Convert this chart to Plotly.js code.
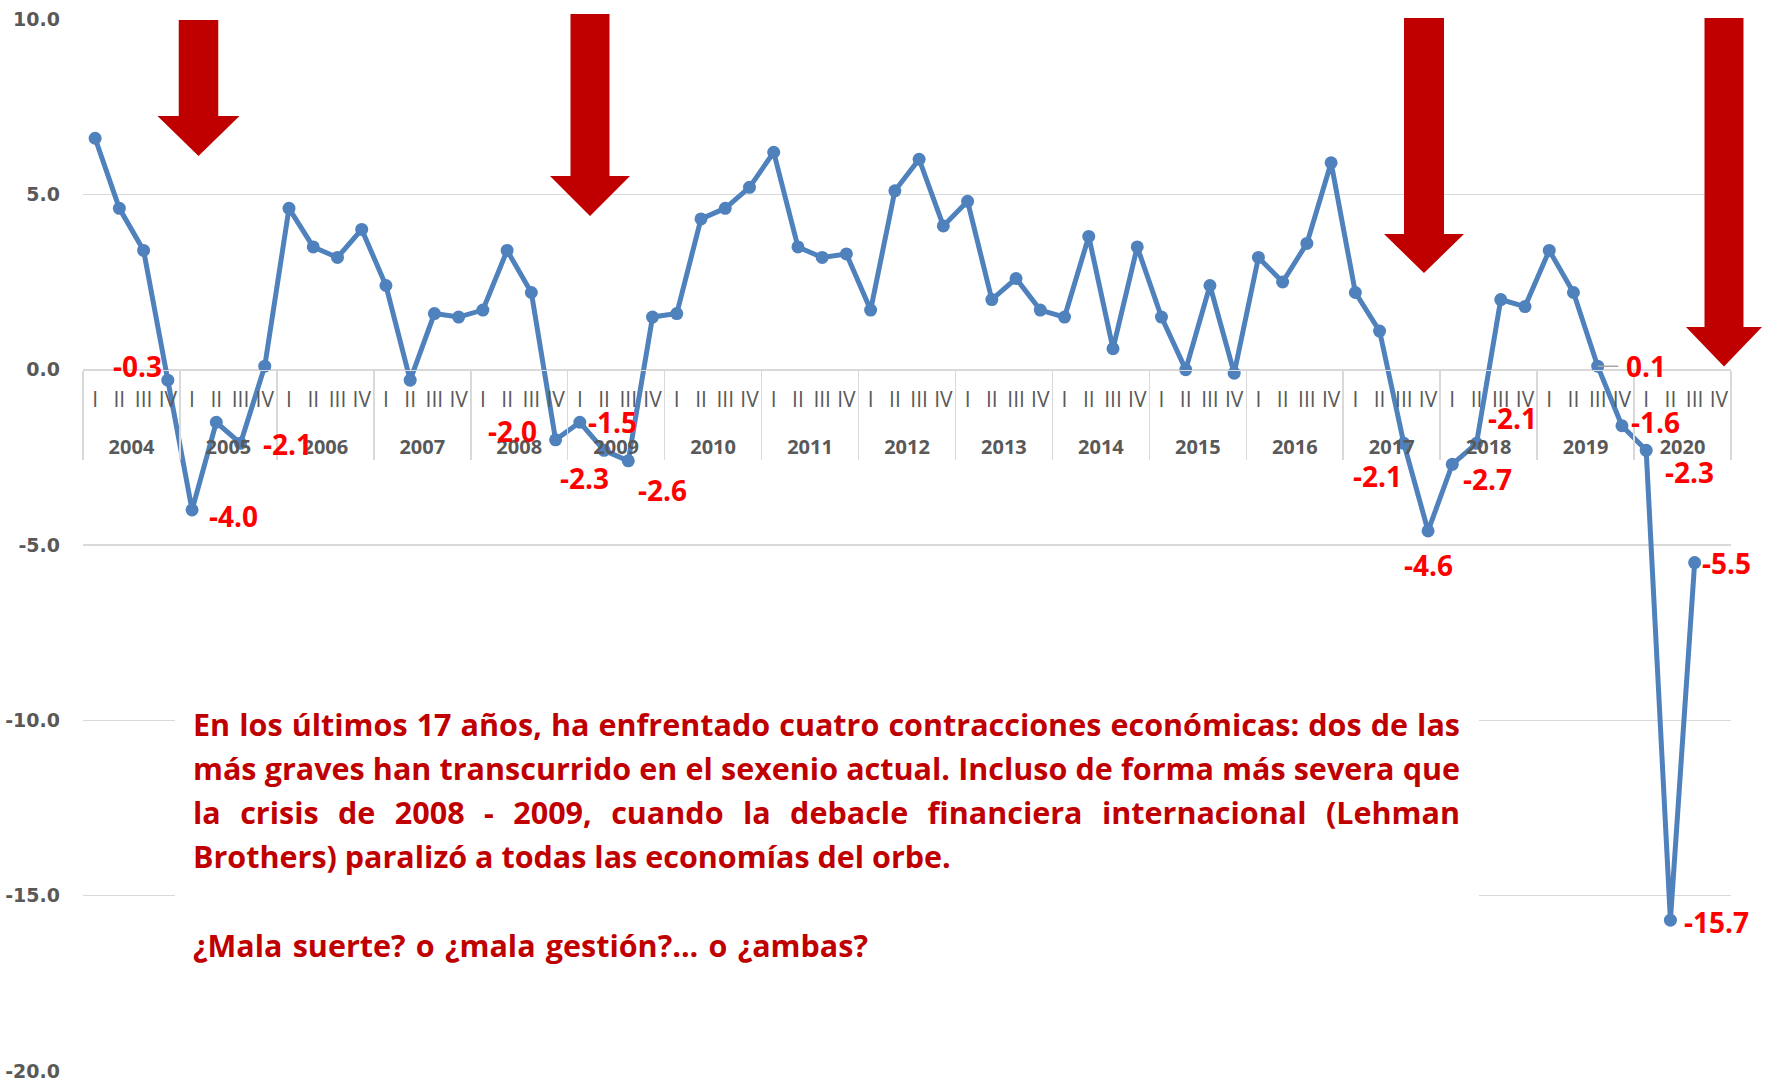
<!DOCTYPE html>
<html>
<head>
<meta charset="utf-8">
<script src="https://cdn.plot.ly/plotly-3.0.1.min.js"></script>
<style>
html,body{margin:0;padding:0;background:#ffffff;}
#chart{width:1772px;height:1090px;}
</style>
</head>
<body>
<div id="chart"></div>
<script>
// ---------------- DATA ----------------
const years = ['2004','2005','2006','2007','2008','2009','2010','2011','2012',
               '2013','2014','2015','2016','2017','2018','2019','2020'];
const quarters = ['I','II','III','IV'];
// Quarterly growth (%), 2004-I .. 2020-III
const growth = [
  6.6, 4.6, 3.4, -0.3,
  -4.0, -1.5, -2.1, 0.1,
  4.6, 3.5, 3.2, 4.0,
  2.4, -0.3, 1.6, 1.5,
  1.7, 3.4, 2.2, -2.0,
  -1.5, -2.3, -2.6, 1.5,
  1.6, 4.3, 4.6, 5.2,
  6.2, 3.5, 3.2, 3.3,
  1.7, 5.1, 6.0, 4.1,
  4.8, 2.0, 2.6, 1.7,
  1.5, 3.8, 0.6, 3.5,
  1.5, 0.0, 2.4, -0.1,
  3.2, 2.5, 3.6, 5.9,
  2.2, 1.1, -2.1, -4.6,
  -2.7, -2.1, 2.0, 1.8,
  3.4, 2.2, 0.1, -1.6,
  -2.3, -15.7, -5.5
];
const yTicks = [10, 5, 0, -5, -10, -15, -20];
// indices of quarters that carry a value label
const labelledPoints = [3, 4, 6, 19, 20, 21, 22, 54, 55, 56, 57, 62, 63, 64, 65, 66];
const paragraph = [
  'En los últimos 17 años, ha enfrentado cuatro contracciones económicas: dos de las',
  'más graves han transcurrido en el sexenio actual. Incluso de forma más severa que',
  'la crisis de 2008 - 2009, cuando la debacle financiera internacional (Lehman',
  'Brothers) paralizó a todas las economías del orbe.',
  '',
  '¿Mala suerte? o ¿mala gestión?... o ¿ambas?'
];

// ---------------- LAYOUT HELPERS ----------------
const W = 1772, H = 1090;
const PL = 83, PR = 1731, PT = 19, PB = 1071;
const fx = p => (p - PL) / (PR - PL);
const fy = p => (PB - p) / (PB - PT);
const FONT = '"Open Sans", "Noto Sans", sans-serif';
const TICKFONT = '"DejaVu Sans", "Open Sans", sans-serif';
const DARKRED = '#C00000';
const LABELRED = '#FF0000';
const GRID = '#D9D9D9';
const AXISTEXT = '#595959';

// build category axis (outer level = year, shown bold one line lower)
const outer = [], inner = [];
years.forEach(y => quarters.forEach(q => {
  outer.push('<br><span style="font-size:20px"><b>' + y + '</b></span>');
  inner.push(q);
}));
const yVals = inner.map((_, i) => (i < growth.length ? growth[i] : null));

const trace = {
  type: 'scatter',
  mode: 'lines+markers',
  x: [outer, inner],
  y: yVals,
  line: {color: '#4F81BD', width: 5},
  marker: {color: '#4F81BD', size: 13},
  hoverinfo: 'skip',
  cliponaxis: false
};

// label placement (style only)
const place = {
  3:  {xa: 'right',  dx: -4,  dy: 14},
  4:  {xa: 'left',   dx: 15,  dy: -6},
  6:  {xa: 'left',   dx: 20,  dy: -1},
  19: {xa: 'right',  dx: -17, dy: 9},
  20: {xa: 'left',   dx: 6,   dy: 0},
  21: {xa: 'center', dx: -20, dy: -28},
  22: {xa: 'left',   dx: 8,   dy: -29},
  54: {xa: 'right',  dx: 0,   dy: -33},
  55: {xa: 'center', dx: 0,   dy: -34},
  56: {xa: 'left',   dx: 9,   dy: -15},
  57: {xa: 'left',   dx: 9,   dy: 25},
  62: {arrow: true,  ax: 48,  ay: 0},
  63: {xa: 'left',   dx: 7,   dy: 4},
  64: {xa: 'left',   dx: 17,  dy: -22},
  65: {xa: 'left',   dx: 12,  dy: -2},
  66: {xa: 'left',   dx: 5,   dy: 0}
};

const annotations = [];
labelledPoints.forEach(i => {
  const p = place[i];
  const a = {
    xref: 'x', yref: 'y', x: i, y: growth[i],
    text: growth[i].toFixed(1),
    font: {family: FONT, size: 28, color: LABELRED, weight: 'bold'}
  };
  if (p.arrow) {
    Object.assign(a, {showarrow: true, arrowhead: 0, arrowwidth: 1.5, arrowcolor: '#A6A6A6',
                      ax: p.ax, ay: p.ay, startstandoff: 6});
  } else {
    Object.assign(a, {showarrow: false, xanchor: p.xa, yanchor: 'middle', xshift: p.dx, yshift: p.dy});
  }
  annotations.push(a);
});

// paragraph (lines spaced to the widths seen in the reference)
const PFONT_SIZE = 30.5;
const ctx = document.createElement('canvas').getContext('2d');
ctx.font = '700 ' + PFONT_SIZE + 'px "Open Sans"';
const TEXT_LEFT = 191;
const lineWidths = [1267, 1267, 1267, null, null, 675];
paragraph.forEach((line, k) => {
  if (!line) return;
  let txt = line;
  if (lineWidths[k]) {
    const w = ctx.measureText(line).width;
    const nSp = line.split(' ').length - 1;
    const ws = Math.max(0, (lineWidths[k] - w) / nSp);
    txt = '<span style="word-spacing:' + ws.toFixed(2) + 'px">' + line + '</span>';
  }
  annotations.push({
    xref: 'paper', yref: 'paper', x: fx(TEXT_LEFT), y: fy(723.5 + k * 44.3),
    xanchor: 'left', yanchor: 'middle', showarrow: false, align: 'left',
    text: txt,
    font: {family: FONT, size: PFONT_SIZE, color: DARKRED, weight: 'bold'}
  });
});

// arrows
function arrowPath(cx, sh, top, base, hh, tip) {
  const pts = [[cx - sh, top], [cx + sh, top], [cx + sh, base], [cx + hh, base],
               [cx, tip], [cx - hh, base], [cx - sh, base]];
  return 'M' + pts.map(p => fx(p[0]).toFixed(5) + ',' + fy(p[1]).toFixed(5)).join(' L') + ' Z';
}
const shapes = [
  {type: 'rect', xref: 'paper', yref: 'paper', x0: fx(175), x1: fx(1479), y0: fy(692), y1: fy(990),
   fillcolor: '#ffffff', line: {width: 0}, layer: 'above'},
  {type: 'path', xref: 'paper', yref: 'paper', path: arrowPath(198.5, 19.75, 20, 116, 41, 156),
   fillcolor: DARKRED, line: {width: 0}, layer: 'above'},
  {type: 'path', xref: 'paper', yref: 'paper', path: arrowPath(590, 19.5, 14, 176, 40, 216),
   fillcolor: DARKRED, line: {width: 0}, layer: 'above'},
  {type: 'path', xref: 'paper', yref: 'paper', path: arrowPath(1424, 20, 18, 234, 40, 273),
   fillcolor: DARKRED, line: {width: 0}, layer: 'above'},
  {type: 'path', xref: 'paper', yref: 'paper', path: arrowPath(1724, 19.5, 18, 327, 38, 366.5),
   fillcolor: DARKRED, line: {width: 0}, layer: 'above'}
];

const layout = {
  width: W, height: H,
  margin: {l: PL, r: W - PR, t: PT, b: H - PB, pad: 0},
  paper_bgcolor: '#ffffff', plot_bgcolor: '#ffffff',
  showlegend: false, hovermode: false,
  font: {family: FONT, color: AXISTEXT},
  xaxis: {
    type: 'multicategory',
    range: [-0.5, inner.length - 0.5],
    tickmode: 'linear', tick0: 0, dtick: 1,
    anchor: 'free', position: 20 / 30,
    showline: true, linecolor: GRID, linewidth: 1.5,
    showgrid: false, zeroline: false, ticks: '',
    tickangle: 0, ticklabelstandoff: 11,
    showdividers: true, dividercolor: GRID, dividerwidth: 1.5,
    tickfont: {family: FONT, size: 21, color: AXISTEXT},
    fixedrange: true
  },
  yaxis: {
    range: [-20, 10],
    tickmode: 'array', tickvals: yTicks, ticktext: yTicks.map(v => v.toFixed(1)),
    showgrid: true, gridcolor: GRID, gridwidth: 1.5,
    zeroline: false, showline: false, ticks: '',
    ticklabelstandoff: 22,
    tickfont: {family: TICKFONT, size: 19, color: AXISTEXT, weight: 'bold'},
    fixedrange: true
  },
  annotations: annotations,
  shapes: shapes
};

Plotly.newPlot('chart', [trace], layout, {displayModeBar: false, staticPlot: true});
</script>
</body>
</html>
